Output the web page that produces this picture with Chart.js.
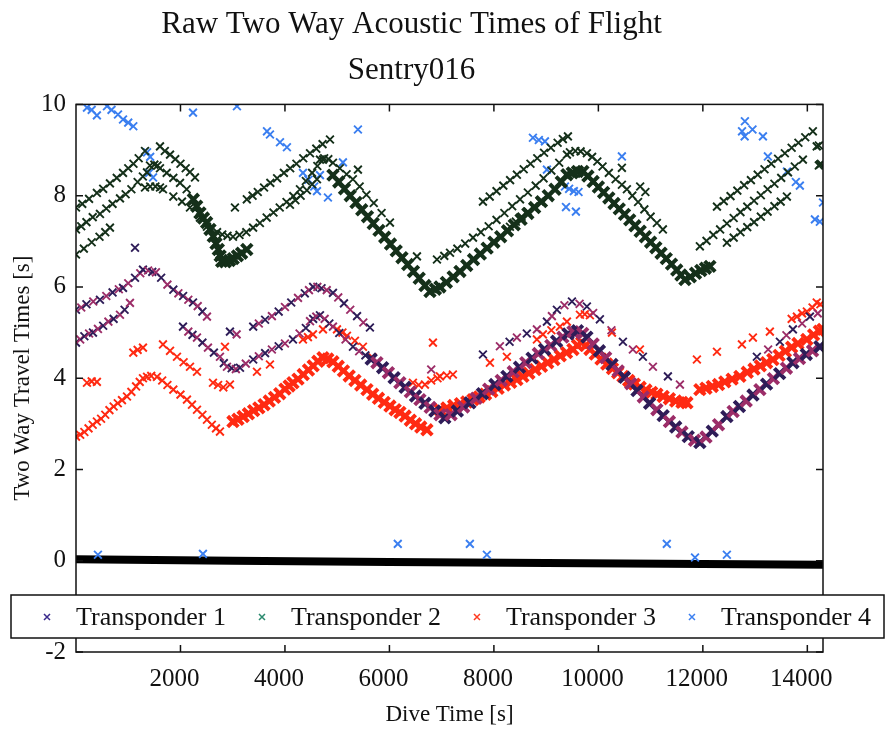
<!DOCTYPE html>
<html>
<head>
<meta charset="utf-8">
<script src="https://cdn.jsdelivr.net/npm/chart.js@4.4.1/dist/chart.umd.min.js"></script>
<style>
  html, body { margin: 0; padding: 0; background: #fff; }
  #wrap { width: 886px; height: 731px; }
</style>
</head>
<body>
<div id="wrap"><canvas id="chart" width="886" height="731"></canvas></div>
<script>
// tick values
const xTickValues = [2000, 4000, 6000, 8000, 10000, 12000, 14000];
const yTickValues = [-2, 0, 2, 4, 6, 8, 10];
const legendLabels = ["Transponder 1", "Transponder 2", "Transponder 3", "Transponder 4"];

// Transponder 1 (purple) — [dive time s, two way time s]
const t1Upper = [[0,5.5],[100,5.55],[200,5.62],[330,5.68],[459,5.72],[580,5.8],[700,5.88],[820,5.95],[900,5.98],[1000,6.08],[1130,6.2],[1230,6.3],[1282,6.38],[1380,6.36],[1460,6.33],[1530,6.32],[1630,6.2],[1750,6.05],[1863,5.94],[1960,5.86],[2050,5.8],[2150,5.72],[2240,5.66],[2330,5.58],[2420,5.46],[2507,5.35],[2947,5.02],[3075,4.96],[3392,5.13],[3500,5.2],[3620,5.28],[3750,5.36],[3880,5.46],[4000,5.56],[4120,5.66],[4250,5.76],[4380,5.86],[4460,5.93],[4540,6.0],[4620,6.0],[4700,5.97],[4800,5.93],[4919,5.87],[5020,5.77],[5130,5.64],[5250,5.5],[5380,5.36],[5500,5.22],[5627,5.11]];
const t1UpperB = [[7790,4.52],[8115,4.7],[8300,4.8],[8440,4.89],[8630,4.98],[8823,5.07],[9015,5.24],[9110,5.36],[9206,5.5],[9350,5.6],[9494,5.68],[9640,5.63],[9780,5.57],[9900,5.43],[10029,5.29],[10250,5.05],[10470,4.8],[10660,4.63],[10852,4.47],[11044,4.25],[11331,4.04],[11561,3.86],[13034,4.47],[13250,4.63],[13475,4.8],[13600,4.94],[13724,5.07],[13900,5.2],[14050,5.35],[14200,5.42]];
const t1Lower = [[0,4.78],[80,4.85],[160,4.92],[250,4.98],[325,5.0],[420,5.08],[520,5.15],[620,5.24],[720,5.3],[842,5.39],[930,5.5],[1033,5.65],[2048,5.13],[2150,5.02],[2230,4.95],[2316,4.89],[2420,4.78],[2526,4.67],[2640,4.56],[2756,4.47],[2830,4.33],[2890,4.25],[2980,4.22],[3060,4.2],[3139,4.23],[3250,4.32],[3392,4.41],[3500,4.48],[3620,4.55],[3750,4.63],[3880,4.7],[4000,4.76],[4153,4.85],[4280,4.98],[4400,5.1],[4480,5.25],[4540,5.3],[4600,5.35],[4670,5.38],[4760,5.3],[4850,5.2],[4919,5.13],[5040,4.99],[5160,4.85],[5302,4.69],[5420,4.59],[5540,4.5]];
const t1Dense = [[5650,4.42],[5761,4.34],[5870,4.23],[5980,4.12],[6090,4.01],[6200,3.9],[6300,3.8],[6400,3.7],[6500,3.61],[6584,3.53],[6680,3.45],[6780,3.36],[6870,3.28],[6967,3.2],[7060,3.13],[7180,3.2],[7300,3.28],[7420,3.37],[7540,3.46],[7660,3.56],[7780,3.66],[7900,3.76],[8020,3.86],[8140,3.95],[8249,4.04],[8370,4.14],[8490,4.24],[8610,4.34],[8730,4.44],[8850,4.54],[8970,4.63],[9090,4.72],[9200,4.81],[9320,4.9],[9420,4.97],[9513,5.02],[9600,5.04],[9700,4.98],[9780,4.9],[9900,4.75],[10020,4.6],[10140,4.45],[10260,4.3],[10380,4.16],[10500,4.02],[10620,3.88],[10740,3.73],[10860,3.59],[10980,3.45],[11120,3.31],[11240,3.18],[11360,3.05],[11480,2.93],[11600,2.82],[11720,2.72],[11840,2.64],[11943,2.59],[12060,2.71],[12180,2.84],[12300,2.98],[12460,3.16],[12580,3.27],[12700,3.38],[12830,3.5],[12960,3.63],[13092,3.75],[13220,3.87],[13350,3.99],[13470,4.1],[13600,4.22],[13724,4.34],[13850,4.43],[13980,4.52],[14100,4.6],[14240,4.69]];
const t1Stray = [[1130,6.86],[6800,4.19]];

// Transponder 2 (green)
const t2TopA = [[0,7.74],[120,7.82],[250,7.93],[400,8.06],[520,8.15],[650,8.27],[780,8.39],[900,8.5],[1000,8.6],[1100,8.7],[1200,8.82],[1321,8.98]];
const t2MidA = [[0,7.26],[100,7.33],[200,7.42],[320,7.53],[459,7.6],[580,7.72],[700,7.82],[842,7.94],[950,8.03],[1060,8.14],[1180,8.3],[1280,8.42],[1359,8.51],[1416,8.66],[1500,8.68],[1560,8.66],[1608,8.6],[1736,8.5],[1863,8.39],[1991,8.28],[2118,8.14]];
const t2LowA = [[0,6.71],[150,6.84],[300,6.98],[450,7.1],[560,7.2],[650,7.3],[1321,8.18],[1420,8.2],[1520,8.2],[1608,8.18],[1665,8.14],[1863,7.98],[2029,7.87],[2182,7.74],[2373,7.52],[2507,7.32]];
const t2TopB = [[1608,9.08],[1700,8.98],[1800,8.9],[1900,8.8],[2000,8.7],[2100,8.6],[2182,8.52],[2278,8.4]];
const t2Valley = [[2246,7.92],[2310,7.77],[2373,7.62],[2440,7.51],[2501,7.41],[2565,7.26],[2628,7.11],[2680,6.95],[2724,6.82],[2760,6.68],[2788,6.56],[2860,6.55],[2940,6.58],[3010,6.62],[3090,6.68],[3170,6.74],[3270,6.82]];
const t2MidB = [[2700,7.2],[2800,7.15],[2900,7.12],[3005,7.1],[3130,7.14],[3260,7.2],[3390,7.3],[3520,7.4],[3650,7.52],[3780,7.63],[3900,7.74],[4030,7.86],[4160,7.99],[4287,8.14],[4400,8.32],[4520,8.5],[4620,8.65],[4728,8.79]];
const t2TopC = [[3270,7.92],[3380,8.0],[3480,8.08],[3600,8.18],[3720,8.28],[3850,8.38],[3980,8.5],[4100,8.6],[4220,8.7],[4350,8.82],[4480,8.93],[4600,9.03],[4720,9.13],[4862,9.23]];
const t2LowB = [[4096,7.8],[4200,7.9],[4300,8.0],[4420,8.12],[4520,8.25],[4613,8.36]];
const t2UpperD = [[4670,8.79],[4750,8.82],[4830,8.8],[4919,8.72],[5050,8.6],[5180,8.47],[5300,8.36],[5430,8.2],[5560,8.02],[5700,7.84],[5850,7.62],[6010,7.41]];
const t2Dense = [[4919,8.45],[5030,8.3],[5140,8.15],[5250,8.0],[5360,7.85],[5470,7.69],[5580,7.54],[5690,7.39],[5800,7.24],[5910,7.09],[6020,6.94],[6130,6.79],[6240,6.64],[6350,6.49],[6460,6.34],[6570,6.19],[6680,6.03],[6776,5.9],[6880,5.95],[6967,6.0],[7090,6.1],[7220,6.22],[7350,6.34],[7480,6.47],[7610,6.6],[7740,6.72],[7870,6.85],[8000,6.98],[8130,7.1],[8260,7.23],[8390,7.36],[8520,7.48],[8650,7.61],[8780,7.74],[8910,7.87],[9040,8.0],[9170,8.14],[9290,8.3],[9398,8.46],[9500,8.5],[9600,8.53],[9704,8.53],[9800,8.43],[9900,8.31],[10000,8.19],[10100,8.07],[10200,7.95],[10300,7.83],[10400,7.71],[10500,7.59],[10600,7.47],[10700,7.34],[10800,7.22],[10900,7.1],[11000,6.98],[11100,6.86],[11200,6.74],[11300,6.62],[11400,6.5],[11500,6.37],[11580,6.26],[11657,6.16],[11760,6.22],[11860,6.3],[11960,6.36],[12050,6.41],[12135,6.45]];
const t2MidC = [[6910,6.6],[7050,6.68],[7160,6.75],[7300,6.84],[7450,6.95],[7600,7.08],[7750,7.2],[7900,7.33],[8050,7.47],[8200,7.62],[8350,7.77],[8500,7.92],[8650,8.07],[8800,8.22],[8950,8.38],[9100,8.55],[9250,8.72],[9398,8.9],[9455,8.95],[9560,8.98],[9660,8.97],[9780,8.93],[9880,8.85],[9980,8.75],[10080,8.64],[10200,8.5],[10330,8.36],[10450,8.24],[10546,8.14],[10650,8.0],[10760,7.86],[10880,7.7],[11000,7.54],[11120,7.4],[11235,7.26]];
const t2TopD = [[7790,7.87],[7920,7.98],[8050,8.1],[8180,8.22],[8310,8.34],[8440,8.46],[8570,8.58],[8700,8.7],[8830,8.82],[8960,8.94],[9090,9.05],[9220,9.16],[9320,9.24],[9417,9.3]];
const t2LowC = [[8307,7.32],[8420,7.43],[8530,7.54],[8650,7.65],[8760,7.76],[8881,7.87]];
const t2MidD = [[11943,6.89],[12070,7.01],[12200,7.14],[12330,7.26],[12460,7.39],[12590,7.51],[12720,7.64],[12850,7.76],[12980,7.89],[13110,8.01],[13240,8.14],[13370,8.26],[13500,8.39],[13630,8.51],[13760,8.64],[13915,8.79]];
const t2TopE = [[12270,7.76],[12400,7.88],[12530,7.99],[12660,8.11],[12790,8.23],[12920,8.34],[13050,8.46],[13180,8.58],[13310,8.7],[13440,8.81],[13570,8.93],[13700,9.05],[13830,9.16],[13960,9.28],[14106,9.41],[14180,9.08],[14220,9.1]];
const t2LowD = [[12460,6.97],[12590,7.08],[12720,7.2],[12850,7.31],[12980,7.42],[13110,7.54],[13240,7.65],[13370,7.77],[13490,7.87],[13609,7.98]];
const t2Stray = [[3043,7.74],[5397,8.57],[6527,6.67],[10450,8.61],[10800,8.2],[10900,8.08],[14240,8.68],[14260,8.7],[14220,8.66]];

// Transponder 3 (red)
const t3MainA = [[0,2.72],[80,2.76],[160,2.82],[240,2.9],[320,2.98],[400,3.05],[480,3.11],[560,3.2],[640,3.3],[720,3.38],[800,3.45],[880,3.52],[976,3.6],[1060,3.7],[1150,3.82],[1220,3.92],[1282,4.0],[1360,4.03],[1440,4.05],[1550,4.03],[1650,3.95],[1750,3.85],[1863,3.75],[2000,3.64],[2124,3.53],[2220,3.42],[2316,3.31],[2420,3.2],[2507,3.09],[2600,2.98],[2680,2.9],[2756,2.83]];
const t3MainB = [[3005,3.05],[3100,3.1],[3200,3.16],[3300,3.22],[3400,3.29],[3500,3.35],[3600,3.42],[3700,3.5],[3800,3.58],[3900,3.66],[4000,3.76],[4080,3.83],[4153,3.9],[4250,3.98],[4350,4.08],[4450,4.18],[4540,4.27],[4630,4.37],[4728,4.45],[4820,4.42],[4919,4.36],[5020,4.26],[5120,4.16],[5230,4.05],[5340,3.95],[5450,3.85],[5570,3.75],[5680,3.65],[5790,3.56],[5900,3.47],[6010,3.39],[6110,3.31],[6201,3.25],[6300,3.17],[6400,3.08],[6500,3.0],[6600,2.93],[6718,2.87]];
const t3MainC = [[6967,3.31],[7100,3.35],[7230,3.4],[7360,3.44],[7480,3.48],[7600,3.53],[7720,3.59],[7840,3.65],[7960,3.71],[8080,3.78],[8200,3.85],[8320,3.91],[8440,3.97],[8555,4.04],[8670,4.11],[8790,4.19],[8910,4.26],[9030,4.34],[9150,4.41],[9270,4.49],[9390,4.56],[9513,4.63],[9600,4.72],[9680,4.78],[9760,4.72],[9838,4.63],[9940,4.53],[10050,4.42],[10160,4.31],[10270,4.21],[10370,4.12],[10470,4.04],[10580,3.95],[10690,3.87],[10800,3.8],[10910,3.74],[11020,3.69],[11120,3.65],[11240,3.6],[11360,3.55],[11480,3.5],[11600,3.47],[11695,3.46],[11943,3.75],[12060,3.78],[12180,3.82],[12300,3.86],[12420,3.92],[12560,3.98],[12709,4.04],[12850,4.13],[12980,4.2],[13100,4.27],[13220,4.34],[13340,4.41],[13460,4.5],[13580,4.59],[13700,4.68],[13820,4.76],[13991,4.85],[14120,4.95],[14230,5.03],[14300,5.07]];
const t3Upper = [[210,3.9],[300,3.93],[400,3.92],[1097,4.56],[1180,4.62],[1282,4.67],[1665,4.74],[1800,4.6],[1933,4.47],[2060,4.35],[2182,4.25],[2316,4.14],[2622,3.9],[2720,3.85],[2820,3.8],[2947,3.86],[2852,4.69],[3464,4.14],[3713,4.3],[4345,4.85],[4440,4.9],[4536,4.96],[4728,5.07],[4996,5.07],[5100,5.0],[5187,4.93],[5340,4.82],[5493,4.69],[5680,4.45],[5876,4.23],[6450,3.9],[6560,3.85],[6680,3.86],[6800,3.95],[6833,4.78],[6920,4.0],[6967,4.04],[7100,4.06],[7215,4.08],[7924,4.34],[8249,4.47],[8823,4.85],[8938,4.96],[9100,5.05],[9264,5.13],[9398,5.24],[9647,5.39],[9740,5.4],[9838,5.38],[10260,5.0],[10795,4.63],[11886,4.41],[12270,4.58],[12748,4.74],[12958,4.89],[13283,5.02],[13700,5.3],[13800,5.35],[13900,5.42],[13991,5.46],[14100,5.55],[14180,5.66],[14250,5.62]];

// Transponder 4 (blue), scattered
const t4Points = [[210,9.93],[300,9.88],[400,9.76],[593,9.96],[680,9.88],[804,9.78],[900,9.67],[1000,9.6],[1097,9.52],[2240,9.82],[3081,9.96],[3656,9.41],[3713,9.34],[3905,9.17],[4038,9.06],[5397,9.45],[1360,8.95],[1420,8.85],[1400,8.5],[1475,8.4],[4345,8.5],[4450,8.35],[4560,8.2],[4613,8.1],[4823,7.96],[4670,8.45],[5110,8.73],[8747,9.27],[8860,9.22],[8977,9.19],[9015,8.57],[9360,8.2],[9440,8.15],[9530,8.1],[9620,8.08],[9380,7.75],[9570,7.65],[10450,8.86],[12805,9.63],[12750,9.41],[12800,9.3],[12950,9.45],[13150,9.3],[13245,8.86],[13609,8.53],[13780,8.3],[13857,8.22],[14300,7.85],[14145,7.48],[14240,7.43],[420,0.13],[2430,0.15],[6160,0.37],[7540,0.37],[7866,0.13],[11310,0.37],[11850,0.07],[12460,0.13]];

// zero readings (all transponders)
const zeroLine = [[0,0.03],[3000,0.0],[6000,-0.03],[9000,-0.05],[12000,-0.07],[14300,-0.09]];

const SERIF = '"Liberation Serif", "Times New Roman", serif';
const t1Colors = ["#2e1d58", "#9c2d68"];
const t2Color = "#15301a";
const t3Color = "#ff2a12";
const t4Color = "#3b7ff0";
const legendColors = ["#3a2a8c", "#2b8a6e", "#ff3a20", "#3b7ff0"];

function pts(arr) { return arr.map(([x, y]) => ({ x, y })); }

function series(label, arr, color, dense) {
  return {
    label,
    data: pts(arr),
    showLine: false,
    pointStyle: "crossRot",
    pointRadius: dense ? 7.5 : 5.5,
    pointBorderWidth: dense ? 4 : 1.9,
    pointBorderColor: color,
    pointBackgroundColor: "transparent",
  };
}

const t1Color = (ctx) => t1Colors[ctx.dataIndex % 2];

const datasets = [
  series("Transponder 1", t1Upper, t1Color, false),
  series("Transponder 1", t1UpperB, t1Color, false),
  series("Transponder 1", t1Lower, t1Color, false),
  series("Transponder 1", t1Dense, t1Color, true),
  series("Transponder 1", t1Stray, t1Color, false),
  series("Transponder 2", t2TopA, t2Color, false),
  series("Transponder 2", t2MidA, t2Color, false),
  series("Transponder 2", t2LowA, t2Color, false),
  series("Transponder 2", t2TopB, t2Color, false),
  series("Transponder 2", t2Valley, t2Color, true),
  series("Transponder 2", t2MidB, t2Color, false),
  series("Transponder 2", t2TopC, t2Color, false),
  series("Transponder 2", t2LowB, t2Color, false),
  series("Transponder 2", t2UpperD, t2Color, false),
  series("Transponder 2", t2Dense, t2Color, true),
  series("Transponder 2", t2MidC, t2Color, false),
  series("Transponder 2", t2TopD, t2Color, false),
  series("Transponder 2", t2LowC, t2Color, false),
  series("Transponder 2", t2MidD, t2Color, false),
  series("Transponder 2", t2TopE, t2Color, false),
  series("Transponder 2", t2LowD, t2Color, false),
  series("Transponder 2", t2Stray, t2Color, false),
  series("Transponder 3", t3MainA, t3Color, false),
  series("Transponder 3", t3MainB, t3Color, true),
  series("Transponder 3", t3MainC, t3Color, true),
  series("Transponder 3", t3Upper, t3Color, false),
  series("Transponder 4", t4Points, t4Color, false),
  {
    label: "zero",
    data: pts(zeroLine),
    showLine: true,
    borderColor: "#000",
    borderWidth: 8,
    pointRadius: 0,
  },
];

// box frame with inward ticks, like the original figure
const framePlugin = {
  id: "frame",
  afterDatasetsDraw(chart) {
    const { ctx, chartArea: a, scales } = chart;
    ctx.save();
    ctx.strokeStyle = "#111";
    ctx.lineWidth = 1.5;
    ctx.strokeRect(a.left, a.top, a.right - a.left, a.bottom - a.top);
    ctx.beginPath();
    scales.x.ticks.forEach((t) => {
      const px = scales.x.getPixelForValue(t.value);
      ctx.moveTo(px, a.bottom); ctx.lineTo(px, a.bottom - 7);
      ctx.moveTo(px, a.top); ctx.lineTo(px, a.top + 7);
    });
    scales.y.ticks.forEach((t) => {
      const py = scales.y.getPixelForValue(t.value);
      ctx.moveTo(a.left, py); ctx.lineTo(a.left + 7, py);
      ctx.moveTo(a.right, py); ctx.lineTo(a.right - 7, py);
    });
    ctx.stroke();
    ctx.restore();
  },
};

// legend box drawn across the lower part of the plot
const boxLegend = {
  id: "boxLegend",
  afterDraw(chart) {
    const ctx = chart.ctx;
    ctx.save();
    ctx.fillStyle = "#fff";
    ctx.fillRect(11, 595, 873, 43);
    ctx.strokeStyle = "#111";
    ctx.lineWidth = 1.5;
    ctx.strokeRect(11, 595, 873, 43);
    ctx.font = "26px " + SERIF;
    ctx.textBaseline = "middle";
    let xPos = 47;
    const yMid = 617;
    legendLabels.forEach((lab, i) => {
      ctx.strokeStyle = legendColors[i];
      ctx.lineWidth = 1.5;
      ctx.beginPath();
      ctx.moveTo(xPos - 3, yMid - 3); ctx.lineTo(xPos + 3, yMid + 3);
      ctx.moveTo(xPos - 3, yMid + 3); ctx.lineTo(xPos + 3, yMid - 3);
      ctx.stroke();
      ctx.fillStyle = "#111";
      ctx.fillText(lab, xPos + 29, yMid + 1);
      xPos += 29 + ctx.measureText(lab).width + 36;
    });
    ctx.restore();
  },
};

new Chart(document.getElementById("chart"), {
  type: "scatter",
  data: { datasets },
  options: {
    responsive: false,
    animation: false,
    events: [],
    layout: { padding: { left: 0, right: 63, top: 0, bottom: 0 } },
    plugins: {
      legend: { display: false },
      tooltip: { enabled: false },
      title: {
        display: true,
        text: "Raw Two Way Acoustic Times of Flight",
        color: "#111",
        font: { family: SERIF, size: 31, weight: "normal" },
        padding: { top: 6, bottom: 5 },
      },
      subtitle: {
        display: true,
        text: "Sentry016",
        color: "#111",
        font: { family: SERIF, size: 31, weight: "normal" },
        padding: { top: 4, bottom: 15 },
      },
    },
    scales: {
      x: {
        type: "linear",
        min: 0,
        max: 14300,
        grid: { display: false, drawTicks: false },
        border: { display: false },
        afterBuildTicks: (s) => { s.ticks = xTickValues.map((v) => ({ value: v })); },
        afterFit: (s) => { s.height = 79; },
        ticks: {
          color: "#111",
          font: { family: SERIF, size: 25 },
          padding: 12,
          labelOffset: -6,
          maxRotation: 0,
          callback: (v) => String(v),
        },
        title: {
          display: true,
          text: "Dive Time [s]",
          color: "#111",
          font: { family: SERIF, size: 23 },
          padding: { top: 0, bottom: 2 },
        },
      },
      y: {
        type: "linear",
        min: -2,
        max: 10,
        grid: { display: false, drawTicks: false },
        border: { display: false },
        afterBuildTicks: (s) => { s.ticks = yTickValues.map((v) => ({ value: v })); },
        afterFit: (s) => { s.width = 76; },
        ticks: {
          color: "#111",
          font: { family: SERIF, size: 25 },
          padding: 10,
          callback: (v) => String(v),
        },
        title: {
          display: true,
          text: "Two Way Travel Times [s]",
          color: "#111",
          font: { family: SERIF, size: 23 },
          padding: { top: 9, bottom: 0 },
        },
      },
    },
  },
  plugins: [framePlugin, boxLegend],
});
</script>
</body>
</html>
